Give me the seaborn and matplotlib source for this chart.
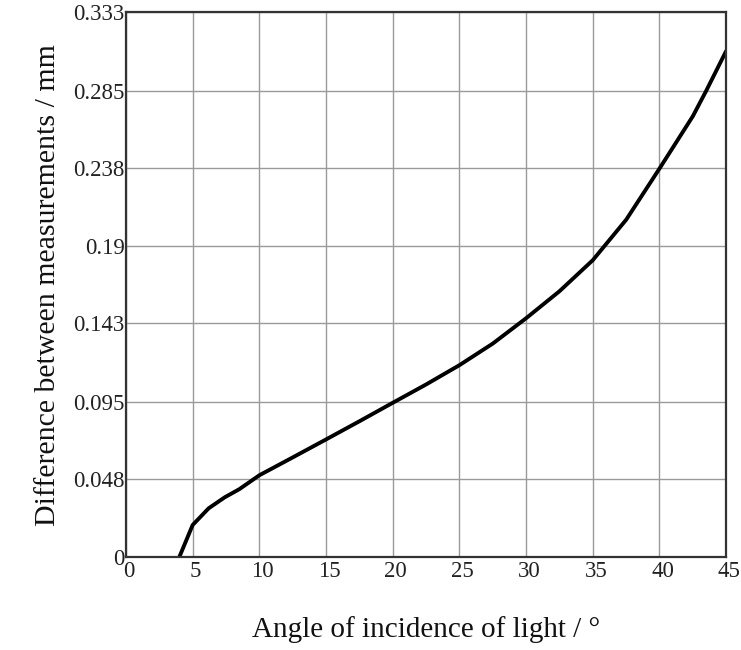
import matplotlib
matplotlib.use("Agg")
import matplotlib.pyplot as plt
import matplotlib.transforms as mtransforms
import seaborn as sns
import pandas as pd

# Data
angle = [4.0, 5.0, 6.2, 7.4, 8.5, 10.0, 12.5, 15.0, 17.5, 20.0, 22.5, 25.0, 27.5, 30.0,
         32.5, 35.0, 37.5, 40.0, 42.5, 43.5, 45.0]
diff = [0.0, 0.0196, 0.0298, 0.0365, 0.0415, 0.050, 0.0609, 0.0719, 0.083, 0.0943, 0.1055,
        0.1173, 0.1305, 0.146, 0.1625, 0.1815, 0.2062, 0.2375, 0.2695, 0.285, 0.3094]

x_ticks = [0, 5, 10, 15, 20, 25, 30, 35, 40, 45]
y_ticks = [0, 0.048, 0.095, 0.143, 0.19, 0.238, 0.285, 0.333]
y_tick_labels = ["0", "0.048", "0.095", "0.143", "0.19", "0.238", "0.285", "0.333"]

sns.set_style("white")
plt.rcParams['font.family'] = ['Liberation Serif', 'DejaVu Serif']

df = pd.DataFrame({"angle": angle, "diff": diff})

fig = plt.figure(figsize=(7.41, 6.50), dpi=100)
ax = fig.add_axes([0.170, 0.143, 0.810, 0.838])

sns.lineplot(data=df, x="angle", y="diff", color="black", linewidth=2.8, ax=ax)
for ln in ax.get_lines():
    ln.set_solid_joinstyle("round")

ax.set_xlim(0, 45)
ax.set_ylim(0, 0.333)
ax.set_xticks(x_ticks)
ax.set_xticklabels([str(t) for t in x_ticks])
ax.set_yticks(y_ticks)
ax.set_yticklabels(y_tick_labels)
ax.grid(True, color="#9a9a9a", linewidth=1.0)
ax.set_axisbelow(True)
for s in ax.spines.values():
    s.set_color("#333333")
    s.set_linewidth(1.6)
    s.set_visible(True)
ax.tick_params(axis="both", length=0, labelsize=16.5, colors="#222222")
ax.tick_params(axis="x", pad=3)
ax.tick_params(axis="y", pad=1)
offset = mtransforms.ScaledTranslation(3 / 100, 0, fig.dpi_scale_trans)
for lbl in ax.get_xticklabels():
    lbl.set_transform(lbl.get_transform() + offset)

ax.set_xlabel("Angle of incidence of light / °", fontsize=21, labelpad=24, color="#111111")
ax.set_ylabel("Difference between measurements / mm", fontsize=21.5, labelpad=9, color="#111111")

fig.savefig("out.png", dpi=100)
